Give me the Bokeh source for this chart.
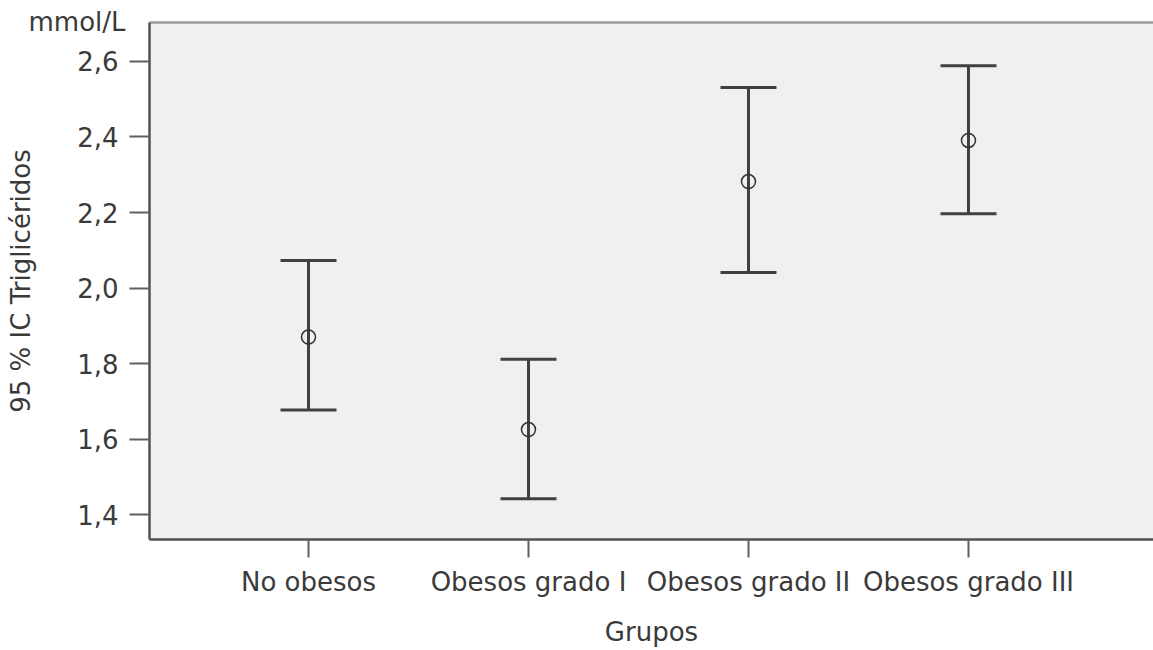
from bokeh.plotting import figure
from bokeh.models import (ColumnDataSource, Range1d, FixedTicker, CustomJSTickFormatter,
                          LinearAxis, Whisker, TeeHead, Title)
from bokeh.embed import file_html
from bokeh.resources import INLINE

groups = ["No obesos", "Obesos grado I", "Obesos grado II", "Obesos grado III"]
means = [1.87, 1.625, 2.282, 2.391]
lower = [1.677, 1.442, 2.041, 2.197]
upper = [2.073, 1.811, 2.531, 2.589]
y_ticks = [1.4, 1.6, 1.8, 2.0, 2.2, 2.4, 2.6]

xpos = list(range(1, len(groups) + 1))
src = ColumnDataSource(dict(x=xpos, mean=means, lower=lower, upper=upper))

FONT = "DejaVu Sans"
TXT = "#3a3a3a"
LINE = "#404040"

p = figure(width=1153, height=650, output_backend="svg", toolbar_location=None,
           x_range=Range1d(0.2773, 4.841), y_range=Range1d(1.3338, 2.7033),
           min_border_left=149, min_border_right=0, min_border_top=22,
           min_border_bottom=111)
p.background_fill_color = "#f0f0f0"
p.border_fill_color = "white"
p.outline_line_color = None
p.grid.visible = False

wh = Whisker(source=src, base="x", upper="upper", lower="lower", dimension="height",
             line_color=LINE, line_width=3,
             upper_head=TeeHead(size=56, line_color=LINE, line_width=3),
             lower_head=TeeHead(size=56, line_color=LINE, line_width=3))
p.add_layout(wh)
p.scatter("x", "mean", source=src, marker="circle", size=14, fill_color=None,
          line_color="#333333", line_width=1.5)

# x axis
xa = p.xaxis[0]
xa.ticker = FixedTicker(ticks=xpos)
xa.formatter = CustomJSTickFormatter(args=dict(names=groups),
                                     code="return names[Math.round(tick) - 1];")
xa.axis_label = "Grupos"
xa.minor_tick_line_color = None
xa.major_tick_in = 0
xa.major_tick_out = 18
xa.major_label_standoff = 9
xa.axis_label_standoff = 17

# y axis
ya = p.yaxis[0]
ya.ticker = FixedTicker(ticks=y_ticks)
ya.formatter = CustomJSTickFormatter(code="return tick.toFixed(1).replace('.', ',');")
ya.axis_label = "95 % IC Triglicéridos"
ya.minor_tick_line_color = None
ya.major_tick_in = 0
ya.major_tick_out = 20
ya.major_label_standoff = 11
ya.axis_label_standoff = 38

for ax in (xa, ya):
    ax.axis_line_color = "#505050"
    ax.axis_line_width = 2.5
    ax.major_tick_line_color = "#606060"
    ax.major_tick_line_width = 2
    ax.major_label_text_font = FONT
    ax.major_label_text_font_size = "26px"
    ax.major_label_text_color = TXT
    ax.axis_label_text_font = FONT
    ax.axis_label_text_font_size = "26px"
    ax.axis_label_text_font_style = "normal"
    ax.axis_label_text_color = TXT

top = LinearAxis(ticker=FixedTicker(ticks=[]), axis_line_color="#9a9a9a",
                 axis_line_width=2.5, major_tick_line_color=None,
                 minor_tick_line_color=None, major_label_text_font_size="0px")
p.add_layout(top, "above")

unit = Title(text="mmol/L", align="left", vertical_align="bottom", offset=-121,
             standoff=-28, text_font=FONT, text_font_size="26px",
             text_color=TXT, text_font_style="normal")
p.add_layout(unit, "above")

open("out.html", "w").write(file_html(p, INLINE))
